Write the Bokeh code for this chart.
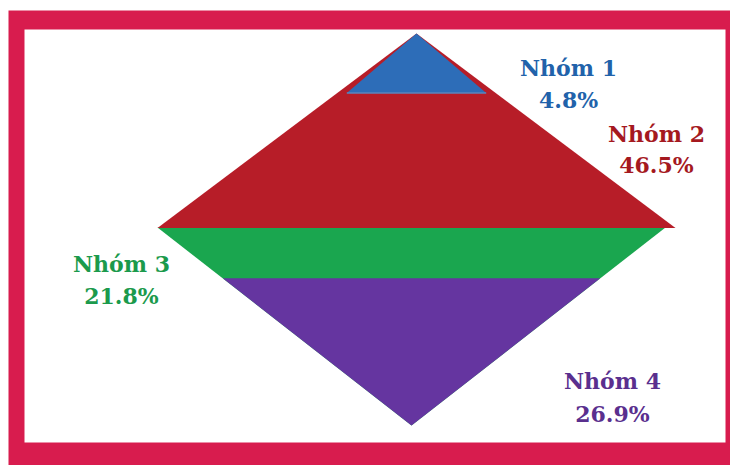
import math
from bokeh.plotting import figure
from bokeh.models import Range1d
from bokeh.core.properties import value
from bokeh.embed import file_html
from bokeh.resources import INLINE

# ---- data ----
groups = ["Nhóm 1", "Nhóm 2", "Nhóm 3", "Nhóm 4"]
shares = [4.8, 46.5, 21.8, 26.9]
fill_colors = ["#2D6DB8", "#B71D28", "#1AA64F", "#6535A0"]
text_colors = ["#2162AA", "#A5191F", "#1B9A4C", "#5A2F8E"]

# ---- layout (pixel space, y downward) ----
W, H = 730, 465
p = figure(width=W, height=H, x_range=Range1d(0, W), y_range=Range1d(H, 0),
           output_backend="svg", toolbar_location=None, min_border=0)
p.axis.visible = False
p.grid.visible = False
p.outline_line_color = None
p.background_fill_color = "white"
p.border_fill_color = "white"

# frame
p.quad(left=8, right=740, top=10, bottom=470, fill_color="#D81C4E", line_color=None)
p.quad(left=24, right=725, top=29, bottom=442, fill_color="white", line_color=None)

# top triangle (groups 1+2), bottom triangle (groups 3+4)
tx, ty, tmid, thw = 416.0, 33.0, 227.5, 259.0
bx, btop, bbot, bhw = 411.0, 227.0, 425.0, 254.0

top_h = tmid - ty
bot_h = bbot - btop

f1 = shares[0] / (shares[0] + shares[1])
d1 = top_h * math.sqrt(f1)           # depth of group-1 band from apex
f4 = shares[3] / (shares[2] + shares[3])
d4 = bot_h * math.sqrt(f4)           # depth of group-4 band from bottom apex

# group 3: whole bottom triangle (group 4 drawn over it)
p.patch([bx - bhw, bx + bhw, bx], [btop, btop, bbot], fill_color=fill_colors[2], line_color=None)
# group 4
hw4 = bhw * d4 / bot_h
p.patch([bx - hw4, bx + hw4, bx], [bbot - d4, bbot - d4, bbot], fill_color=fill_colors[3], line_color=None)
# group 2: whole top triangle (group 1 drawn over it)
p.patch([tx - thw, tx, tx + thw], [tmid, ty, tmid], fill_color=fill_colors[1], line_color=None)
# group 1: top triangle band, slightly inset
hw1 = thw * d1 / top_h * 0.88
p.patch([tx - hw1, tx, tx + hw1], [ty + d1, ty, ty + d1], fill_color=fill_colors[0], line_color=None)
p.line([tx - hw1, tx + hw1], [ty + d1, ty + d1], line_color="#5A86BE", line_width=1.5)

# labels
lx = [568, 656, 121, 612]
ly_name = [67, 133, 263, 380]
ly_val = [99, 164, 295, 413]
vals = [f"{v:.1f}%" for v in shares]
common = dict(text_font=value("DejaVu Serif"), text_font_style="bold", text_font_size="22px",
              text_align="center", text_baseline="alphabetic")
p.text(x=lx, y=ly_name, text=groups, text_color=text_colors, **common)
p.text(x=lx, y=ly_val, text=vals, text_color=text_colors, **common)

open("out.html", "w").write(file_html(p, INLINE))
